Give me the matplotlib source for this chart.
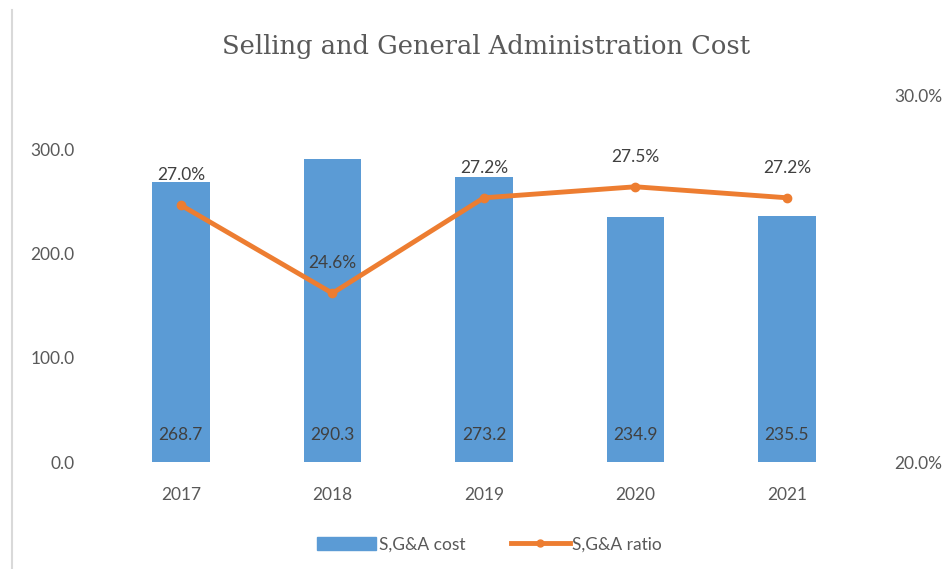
import matplotlib
matplotlib.use("Agg")
import matplotlib.pyplot as plt
from matplotlib.lines import Line2D
from matplotlib.patches import Patch
from matplotlib import ticker

years = ["2017", "2018", "2019", "2020", "2021"]
sga_cost = [268.7, 290.3, 273.2, 234.9, 235.5]
sga_ratio = [27.0, 24.6, 27.2, 27.5, 27.2]

bar_color = "#5B9BD5"
line_color = "#ED7D31"
text_color = "#595959"
label_color = "#404040"

plt.rcParams['font.family'] = ['Lato', 'DejaVu Sans']

fig = plt.figure(figsize=(9.47, 5.69), dpi=100)
ax = fig.add_axes([0.111, 0.188, 0.800, 0.645])
ax2 = ax.twinx()

x = list(range(len(years)))
ax.bar(x, sga_cost, width=0.38, color=bar_color, zorder=2)
ax.set_ylim(0, 352)
ax.set_yticks([0, 100, 200, 300])
ax.yaxis.set_major_formatter(ticker.FormatStrFormatter('%.1f'))
ax.set_xlim(-0.5, len(years) - 0.5)
ax.set_xticks(x)
ax.set_xticklabels(years)

ax2.plot(x, [r / 100 for r in sga_ratio], color=line_color, lw=3.5,
         marker='o', ms=6, zorder=3)
ax2.set_ylim(0.20, 0.30)
ax2.set_yticks([0.20, 0.30])
ax2.yaxis.set_major_formatter(ticker.PercentFormatter(1.0, decimals=1))

for a in (ax, ax2):
    for s in a.spines.values():
        s.set_visible(False)
    a.tick_params(length=0, labelsize=12.5, labelcolor=text_color)
ax.tick_params(axis='y', pad=22)
ax.tick_params(axis='x', pad=18)
ax2.tick_params(axis='y', pad=23)
ax2.set_zorder(ax.get_zorder() + 1)
ax2.patch.set_visible(False)

# bar values sit near the base, ratio values above the markers
for xi, v in zip(x, sga_cost):
    ax.annotate(f"{v:.1f}", (xi, 0), xytext=(0, 27), textcoords='offset pixels',
                ha='center', va='center', fontsize=12.5, color=label_color)
for xi, r in zip(x, sga_ratio):
    ax2.annotate(f"{r:.1f}%", (xi, r / 100), xytext=(0, 30), textcoords='offset pixels',
                 ha='center', va='center', fontsize=12.5, color=label_color)

fig.text(0.513, 0.918, "Selling and General Administration Cost",
         family=['DejaVu Serif'], fontsize=18.5,
         color=text_color, ha='center', va='center')

handles = [Patch(color=bar_color),
           Line2D([0], [0], color=line_color, lw=3.5, marker='o', ms=5)]
fig.legend(handles, ["S,G&A cost", "S,G&A ratio"], loc='center',
           bbox_to_anchor=(0.517, 0.043), ncol=2, frameon=False,
           fontsize=12.5, labelcolor=text_color, handlelength=3.4,
           handletextpad=0.15, columnspacing=2.6)

fig.add_artist(Line2D([12 / 947, 12 / 947], [0, 1 - 10 / 569],
                      transform=fig.transFigure, color="#D9D9D9", lw=1.5))

fig.savefig("out.png", dpi=100)
